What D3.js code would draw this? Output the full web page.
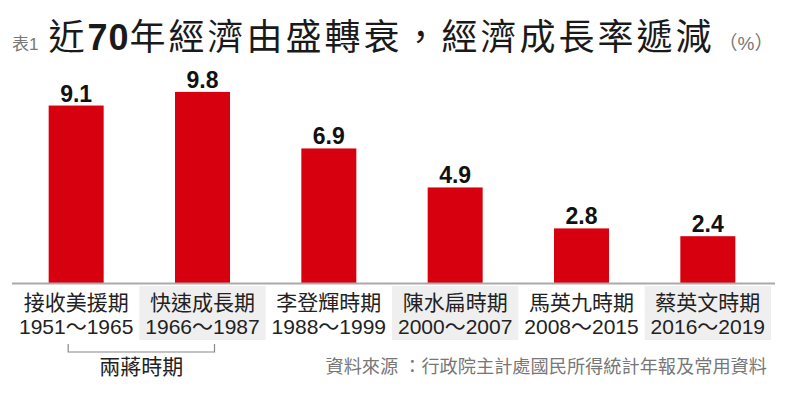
<!DOCTYPE html>
<html>
<head>
<meta charset="utf-8">
<script src="https://cdn.jsdelivr.net/npm/d3@7"></script>
<style>
  body { margin: 0; background: #fff; }
  svg text { font-family: "Liberation Sans", "Noto Sans CJK TC", sans-serif; }
</style>
</head>
<body>
<div class="chart"></div>
<script>
var width = 792, height = 395;

// data
var periods = ['接收美援期', '快速成長期', '李登輝時期', '陳水扁時期', '馬英九時期', '蔡英文時期'];
var years = ['1951～1965', '1966～1987', '1988～1999', '2000～2007', '2008～2015', '2016～2019'];
var growth = [9.1, 9.8, 6.9, 4.9, 2.8, 2.4];
var shaded = [false, true, false, true, false, true];

var baseY = 283;

var svg = d3.select('.chart')
	.append('svg')
	.attr('width', width)
	.attr('height', height);

var x = d3.scaleBand().domain(periods).range([13, 771]).padding(0);
var y = d3.scaleLinear().domain([0, 10]).range([baseY, baseY - 195]);
var barW = 55;

// title
var title = svg.append('text').attr('x', 12).attr('y', 50);
title.append('tspan').attr('font-size', 17).attr('fill', '#777').text('表1');
title.append('tspan').attr('dx', 10).attr('font-size', 36).attr('fill', '#1a1a1a')
	.attr('letter-spacing', 3).text('近');
title.append('tspan').attr('font-size', 36).attr('font-weight', 'bold').attr('fill', '#1a1a1a')
	.attr('letter-spacing', 1).text('70');
title.append('tspan').attr('font-size', 36).attr('fill', '#1a1a1a')
	.attr('letter-spacing', 3).text('年經濟由盛轉衰，經濟成長率遞減');
title.append('tspan').attr('dx', 4).attr('font-size', 19).attr('fill', '#777').text('（%）');

// gray label boxes
svg.append('g').selectAll('rect')
	.data(periods.filter(function(d, i) { return shaded[i]; }))
	.enter().append('rect')
	.attr('x', function(d) { return x(d); })
	.attr('y', 286)
	.attr('width', x.bandwidth())
	.attr('height', 54)
	.attr('fill', '#efefef');

// bars
svg.append('g').selectAll('rect')
	.data(growth)
	.enter().append('rect')
	.attr('x', function(d, i) { return x(periods[i]) + x.bandwidth() / 2 - barW / 2; })
	.attr('y', function(d) { return y(d); })
	.attr('width', barW)
	.attr('height', function(d) { return baseY - y(d); })
	.attr('fill', '#d6000f');

// value labels
svg.append('g').selectAll('text')
	.data(growth)
	.enter().append('text')
	.attr('x', function(d, i) { return x(periods[i]) + x.bandwidth() / 2; })
	.attr('y', function(d) { return y(d) - 4; })
	.attr('text-anchor', 'middle')
	.attr('font-size', 23)
	.attr('font-weight', 'bold')
	.attr('fill', '#111')
	.text(function(d) { return d.toFixed(1); });

// baseline
svg.append('line')
	.attr('x1', 12).attr('x2', 775)
	.attr('y1', baseY + 0.5).attr('y2', baseY + 0.5)
	.attr('stroke', '#aaa').attr('stroke-width', 2);

// category labels
var labels = svg.append('g').selectAll('g')
	.data(periods)
	.enter().append('g')
	.attr('transform', function(d) { return 'translate(' + (x(d) + x.bandwidth() / 2) + ',0)'; });
labels.append('text')
	.attr('y', 310).attr('text-anchor', 'middle')
	.attr('font-size', 21).attr('fill', '#222')
	.text(function(d) { return d; });
labels.append('text')
	.attr('y', 334).attr('text-anchor', 'middle')
	.attr('font-size', 21).attr('fill', '#222')
	.text(function(d, i) { return years[i]; });

// bracket for the first two periods
var bx1 = x(periods[0]) + x.bandwidth() / 2 - 8, bx2 = x(periods[1]) + x.bandwidth() / 2 + 12;
svg.append('path')
	.attr('d', 'M' + bx1 + ',344V352H' + bx2 + 'V344')
	.attr('fill', 'none').attr('stroke', '#888').attr('stroke-width', 1.2);
svg.append('text')
	.attr('x', (bx1 + bx2) / 2).attr('y', 374)
	.attr('text-anchor', 'middle').attr('font-size', 21).attr('fill', '#222')
	.text('兩蔣時期');

// source
svg.append('text')
	.attr('x', 767).attr('y', 373)
	.attr('text-anchor', 'end').attr('font-size', 18.2).attr('fill', '#777')
	.text('資料來源 ：行政院主計處國民所得統計年報及常用資料');
</script>
</body>
</html>
